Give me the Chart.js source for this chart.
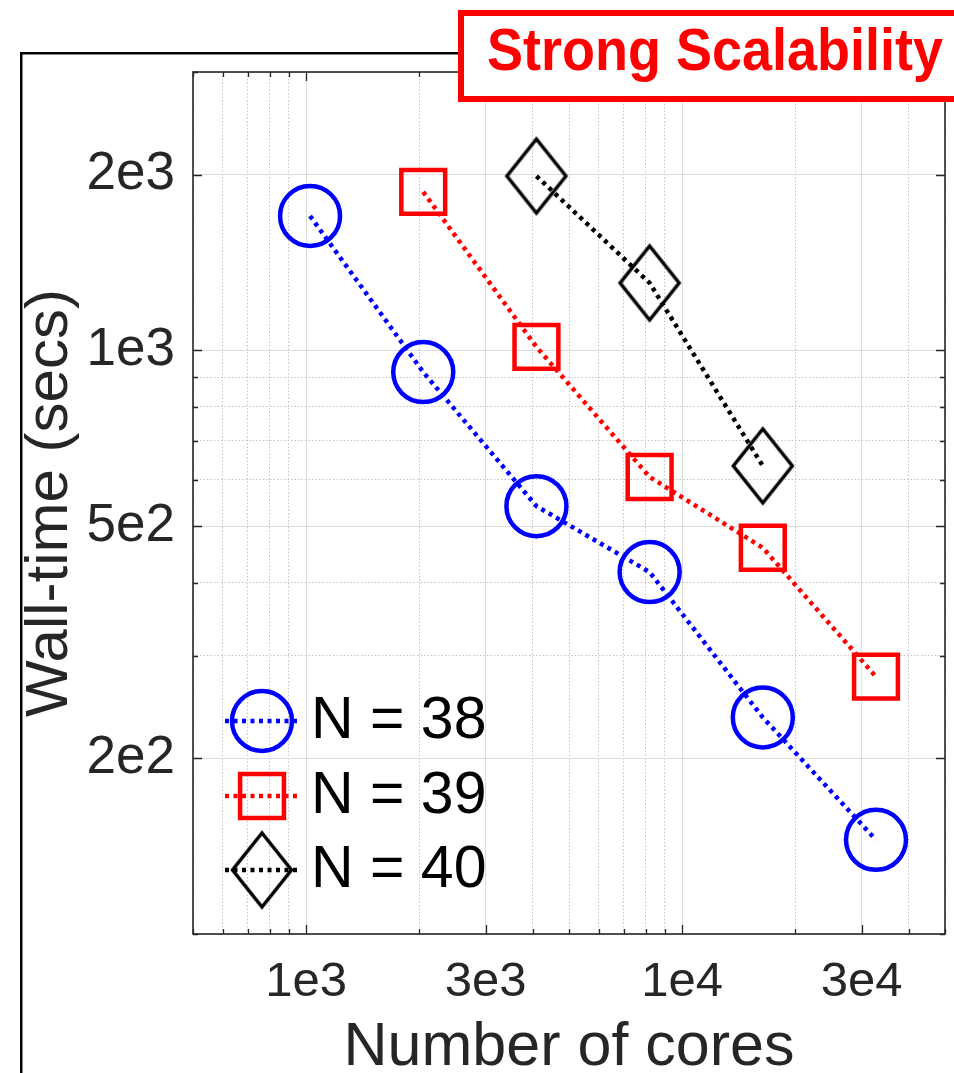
<!DOCTYPE html>
<html>
<head>
<meta charset="utf-8">
<script src="https://cdn.jsdelivr.net/npm/chart.js@4/dist/chart.umd.min.js"></script>
<style>
  html, body { margin: 0; padding: 0; background: #fff; }
  canvas { display: block; }
</style>
</head>
<body>
<canvas id="scaling" width="954" height="1073"></canvas>
<script>
// wall-time vs number of cores
const cores38 = [1024, 2048, 4096, 8192, 16384, 32768];
const time38 = [1700, 918, 541, 417, 235, 145];
const cores39 = [2048, 4096, 8192, 16384, 32768];
const time39 = [1869, 1014, 607, 459, 276];
const cores40 = [4096, 8192, 16384];
const time40 = [1990, 1305, 634];

const seriesLabels = ['N = 38', 'N = 39', 'N = 40'];

// log axis ticks (minor + major), labels only on the major ones
const xTicks = [500, 600, 700, 800, 900, 1000, 2000, 3000, 4000, 5000, 6000, 7000, 8000, 9000,
                10000, 20000, 30000, 40000, 50000];
const xTickLabels = {1000: '1e3', 3000: '3e3', 10000: '1e4', 30000: '3e4'};
const yTicks = [100, 200, 300, 400, 500, 600, 700, 800, 900, 1000, 2000, 3000];
const yTickLabels = {200: '2e2', 500: '5e2', 1000: '1e3', 2000: '2e3'};

const FONT = "'Liberation Sans', Arial, Helvetica, sans-serif";
const AXIS_COLOR = '#262626';

function toPoints(xs, ys) {
    return xs.map((x, i) => ({x: x, y: ys[i]}));
}

// MATLAB style diamond is taller than wide, so build it as an image
function diamondMarker(w, h, lw, color) {
    const c = document.createElement('canvas');
    c.width = Math.ceil(w + lw * 2);
    c.height = Math.ceil(h + lw * 2);
    const g = c.getContext('2d');
    const cx = c.width / 2, cy = c.height / 2;
    g.strokeStyle = color;
    g.lineWidth = lw;
    g.lineJoin = 'miter';
    g.beginPath();
    g.moveTo(cx, cy - h / 2);
    g.lineTo(cx + w / 2, cy);
    g.lineTo(cx, cy + h / 2);
    g.lineTo(cx - w / 2, cy);
    g.closePath();
    g.stroke();
    return c;
}
const diamond = diamondMarker(59, 74, 3.5, '#000000');

function gridColor(labels) {
    return ctx => (ctx.tick && labels[ctx.tick.value]) ? '#dcdcdc' : '#c4c4c4';
}
function gridDash(labels) {
    return ctx => (ctx.tick && !labels[ctx.tick.value]) ? [1.5, 2] : [];
}

const framePlugin = {
    id: 'frame',
    beforeDraw(chart) {
        const ctx = chart.ctx;
        ctx.save();
        ctx.fillStyle = '#ffffff';
        ctx.fillRect(0, 0, chart.width, chart.height);
        // outer black frame of the slide
        ctx.strokeStyle = '#000000';
        ctx.lineWidth = 2.5;
        ctx.strokeRect(21.25, 53.25, 1200, 1200);
        ctx.restore();
    },
    afterDatasetsDraw(chart) {
        const ctx = chart.ctx;
        const a = chart.chartArea;
        const xs = chart.scales.x, ys = chart.scales.y;
        ctx.save();
        ctx.strokeStyle = AXIS_COLOR;
        ctx.lineWidth = 1.3;
        ctx.beginPath();
        xs.ticks.forEach(t => {
            const px = Math.round(xs.getPixelForValue(t.value)) + 0.5;
            const len = xTickLabels[t.value] ? 9 : 5;
            ctx.moveTo(px, a.bottom); ctx.lineTo(px, a.bottom - len);
            ctx.moveTo(px, a.top); ctx.lineTo(px, a.top + len);
        });
        ys.ticks.forEach(t => {
            const py = Math.round(ys.getPixelForValue(t.value)) + 0.5;
            const len = yTickLabels[t.value] ? 9 : 5;
            ctx.moveTo(a.left, py); ctx.lineTo(a.left + len, py);
            ctx.moveTo(a.right, py); ctx.lineTo(a.right - len, py);
        });
        ctx.stroke();
        ctx.lineWidth = 1.6;
        ctx.strokeRect(a.left, a.top, a.right - a.left, a.bottom - a.top);

        // legend, inside the axes, bottom left
        const rows = [721, 796, 870];
        chart.data.datasets.forEach((ds, i) => {
            const y = rows[i];
            ctx.save();
            ctx.strokeStyle = ds.borderColor;
            ctx.lineWidth = ds.borderWidth;
            ctx.setLineDash(ds.borderDash);
            ctx.beginPath();
            ctx.moveTo(225, y);
            ctx.lineTo(299, y);
            ctx.stroke();
            ctx.restore();

            ctx.save();
            ctx.strokeStyle = ds.pointBorderColor;
            ctx.fillStyle = 'rgba(0,0,0,0)';
            ctx.lineWidth = ds.pointBorderWidth;
            Chart.helpers.drawPoint(ctx, {
                pointStyle: ds.pointStyle,
                radius: ds.pointRadius,
                borderWidth: ds.pointBorderWidth,
                rotation: 0
            }, 262, y);
            ctx.restore();

            ctx.fillStyle = '#000000';
            ctx.font = '59px ' + FONT;
            ctx.textAlign = 'left';
            ctx.textBaseline = 'middle';
            ctx.fillText(ds.label, 311, y + 1);
        });
        ctx.restore();
    },
    afterDraw(chart) {
        const ctx = chart.ctx;
        ctx.save();
        ctx.fillStyle = '#ffffff';
        ctx.fillRect(461, 13, 600, 86);
        ctx.strokeStyle = '#ff0000';
        ctx.lineWidth = 6;
        ctx.strokeRect(461, 13, 600, 86);
        ctx.fillStyle = '#ff0000';
        ctx.font = 'bold 59px ' + FONT;
        ctx.textAlign = 'left';
        ctx.textBaseline = 'alphabetic';
        ctx.fillText('Strong Scalability', 487, 70, 456);
        ctx.restore();
    }
};

new Chart(document.getElementById('scaling'), {
    type: 'line',
    data: {
        datasets: [{
            label: seriesLabels[0],
            data: toPoints(cores38, time38),
            borderColor: '#0000ff',
            borderWidth: 4.5,
            borderDash: [4, 4.5],
            pointStyle: 'circle',
            pointRadius: 30,
            pointBorderWidth: 4.5,
            pointBorderColor: '#0000ff',
            pointBackgroundColor: 'rgba(0,0,0,0)',
            fill: false,
            tension: 0,
            clip: false
        }, {
            label: seriesLabels[1],
            data: toPoints(cores39, time39),
            borderColor: '#ff0000',
            borderWidth: 4.5,
            borderDash: [4, 4.5],
            pointStyle: 'rect',
            pointRadius: 31,
            pointBorderWidth: 4.5,
            pointBorderColor: '#ff0000',
            pointBackgroundColor: 'rgba(0,0,0,0)',
            fill: false,
            tension: 0,
            clip: false
        }, {
            label: seriesLabels[2],
            data: toPoints(cores40, time40),
            borderColor: '#000000',
            borderWidth: 4.5,
            borderDash: [4, 4.5],
            pointStyle: diamond,
            pointRadius: 30,
            pointBorderWidth: 3.5,
            pointBorderColor: '#000000',
            pointBackgroundColor: 'rgba(0,0,0,0)',
            fill: false,
            tension: 0,
            clip: false
        }]
    },
    options: {
        responsive: false,
        animation: false,
        events: [],
        layout: { autoPadding: false, padding: { top: 72, right: 9, left: 0, bottom: 0 } },
        plugins: {
            legend: { display: false },
            tooltip: { enabled: false }
        },
        scales: {
            x: {
                type: 'logarithmic',
                min: 500,
                max: 50000,
                afterBuildTicks: scale => { scale.ticks = xTicks.map(v => ({value: v})); },
                afterFit: scale => {
                    scale.height = 139;
                    scale.paddingLeft = 0;
                    scale.paddingRight = 0;
                },
                grid: { drawTicks: false, lineWidth: 1, color: gridColor(xTickLabels) },
                border: { display: false, dash: gridDash(xTickLabels) },
                ticks: {
                    autoSkip: false,
                    maxRotation: 0,
                    minRotation: 0,
                    padding: 19,
                    color: AXIS_COLOR,
                    font: { family: FONT, size: 49 },
                    callback: v => xTickLabels[v] || ''
                },
                title: {
                    display: true,
                    text: 'Number of cores',
                    color: AXIS_COLOR,
                    font: { family: FONT, size: 61, lineHeight: 0.8 },
                    padding: { top: 0, bottom: 0 }
                }
            },
            y: {
                type: 'logarithmic',
                min: 100,
                max: 3000,
                afterBuildTicks: scale => { scale.ticks = yTicks.map(v => ({value: v})); },
                afterFit: scale => {
                    scale.width = 193;
                    scale.paddingTop = 0;
                    scale.paddingBottom = 0;
                },
                grid: { drawTicks: false, lineWidth: 1, color: gridColor(yTickLabels) },
                border: { display: false, dash: gridDash(yTickLabels) },
                ticks: {
                    autoSkip: false,
                    padding: 18,
                    color: AXIS_COLOR,
                    font: { family: FONT, size: 53 },
                    callback: v => yTickLabels[v] || ''
                },
                title: {
                    display: true,
                    text: 'Wall-time (secs)',
                    color: AXIS_COLOR,
                    font: { family: FONT, size: 60, lineHeight: 0.8 },
                    padding: { top: 26, bottom: 0 }
                }
            }
        }
    },
    plugins: [framePlugin]
});
</script>
</body>
</html>
